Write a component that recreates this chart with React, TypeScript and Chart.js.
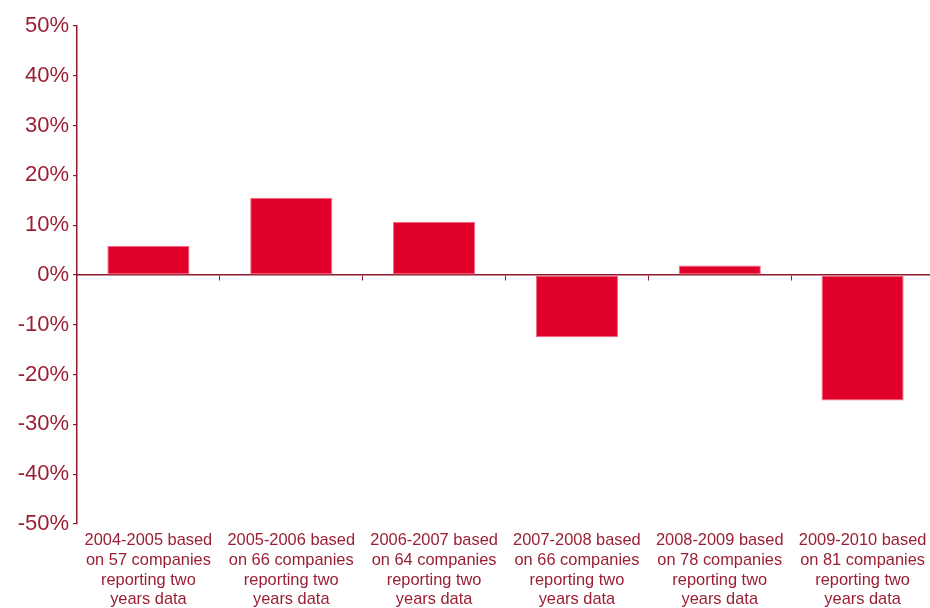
import React, { useEffect, useRef } from "react";
import { Chart, registerables } from "chart.js";

Chart.register(...registerables);

const categories: string[][] = [
  ["2004-2005 based", "on 57 companies", "reporting two", "years data"],
  ["2005-2006 based", "on 66 companies", "reporting two", "years data"],
  ["2006-2007 based", "on 64 companies", "reporting two", "years data"],
  ["2007-2008 based", "on 66 companies", "reporting two", "years data"],
  ["2008-2009 based", "on 78 companies", "reporting two", "years data"],
  ["2009-2010 based", "on 81 companies", "reporting two", "years data"],
];
const values: number[] = [5.8, 15.5, 10.7, -12.5, 1.9, -25.2];
const yMin = -50;
const yMax = 50;
const yStep = 10;

const TEXT = "#9A1F34";
const AXIS = "#8E1A2E";
const BAR = "#E1002A";
const FONT = "'Liberation Sans', Arial, Helvetica, sans-serif";

export default function App() {
  const ref = useRef<HTMLCanvasElement | null>(null);

  useEffect(() => {
    document.body.style.margin = "0";
    const ctx = ref.current!.getContext("2d")!;
    const chart = new Chart(ctx, {
      type: "bar",
      data: {
        labels: categories,
        datasets: [
          {
            data: values,
            backgroundColor: BAR,
            borderColor: "rgba(236,90,120,0.9)",
            borderWidth: 1,
            borderSkipped: false,
            barPercentage: 0.575,
            categoryPercentage: 1,
          },
        ],
      },
      options: {
        animation: false,
        responsive: false,
        maintainAspectRatio: false,
        layout: { padding: { top: 26, left: 0, right: 0, bottom: 0 } },
        plugins: { legend: { display: false }, tooltip: { enabled: false } },
        scales: {
          x: {
            type: "category",
            position: "bottom",
            offset: true,
            grid: { display: false, drawTicks: false },
            border: { display: false },
            ticks: {
              color: TEXT,
              font: { family: FONT, size: 16.4, lineHeight: 1.2 },
              padding: 7,
              maxRotation: 0,
              autoSkip: false,
            },
            afterFit: (s: any) => {
              s.height = 84;
            },
          },
          x2: {
            type: "category",
            position: { y: 0 } as any,
            offset: true,
            grid: {
              offset: true,
              drawOnChartArea: false,
              drawTicks: true,
              tickLength: 5,
              color: AXIS,
              lineWidth: 1,
            },
            border: { display: true, color: AXIS, width: 1.5 },
            ticks: { display: false },
          },
          y: {
            min: yMin,
            max: yMax,
            grid: {
              drawOnChartArea: false,
              drawTicks: true,
              tickLength: 4,
              color: AXIS,
              lineWidth: 1.2,
            },
            border: { display: true, color: AXIS, width: 1.5 },
            ticks: {
              stepSize: yStep,
              color: TEXT,
              font: { family: FONT, size: 22 },
              padding: 4,
              callback: (v: any) => `${v}%`,
            },
            afterFit: (s: any) => {
              s.width = 77;
            },
          },
        },
      },
    });
    return () => chart.destroy();
  }, []);

  return (
    <div style={{ width: 930, height: 608, overflow: "hidden", position: "relative" }}>
      <canvas ref={ref} width={934} height={608} style={{ display: "block" }} />
    </div>
  );
}
